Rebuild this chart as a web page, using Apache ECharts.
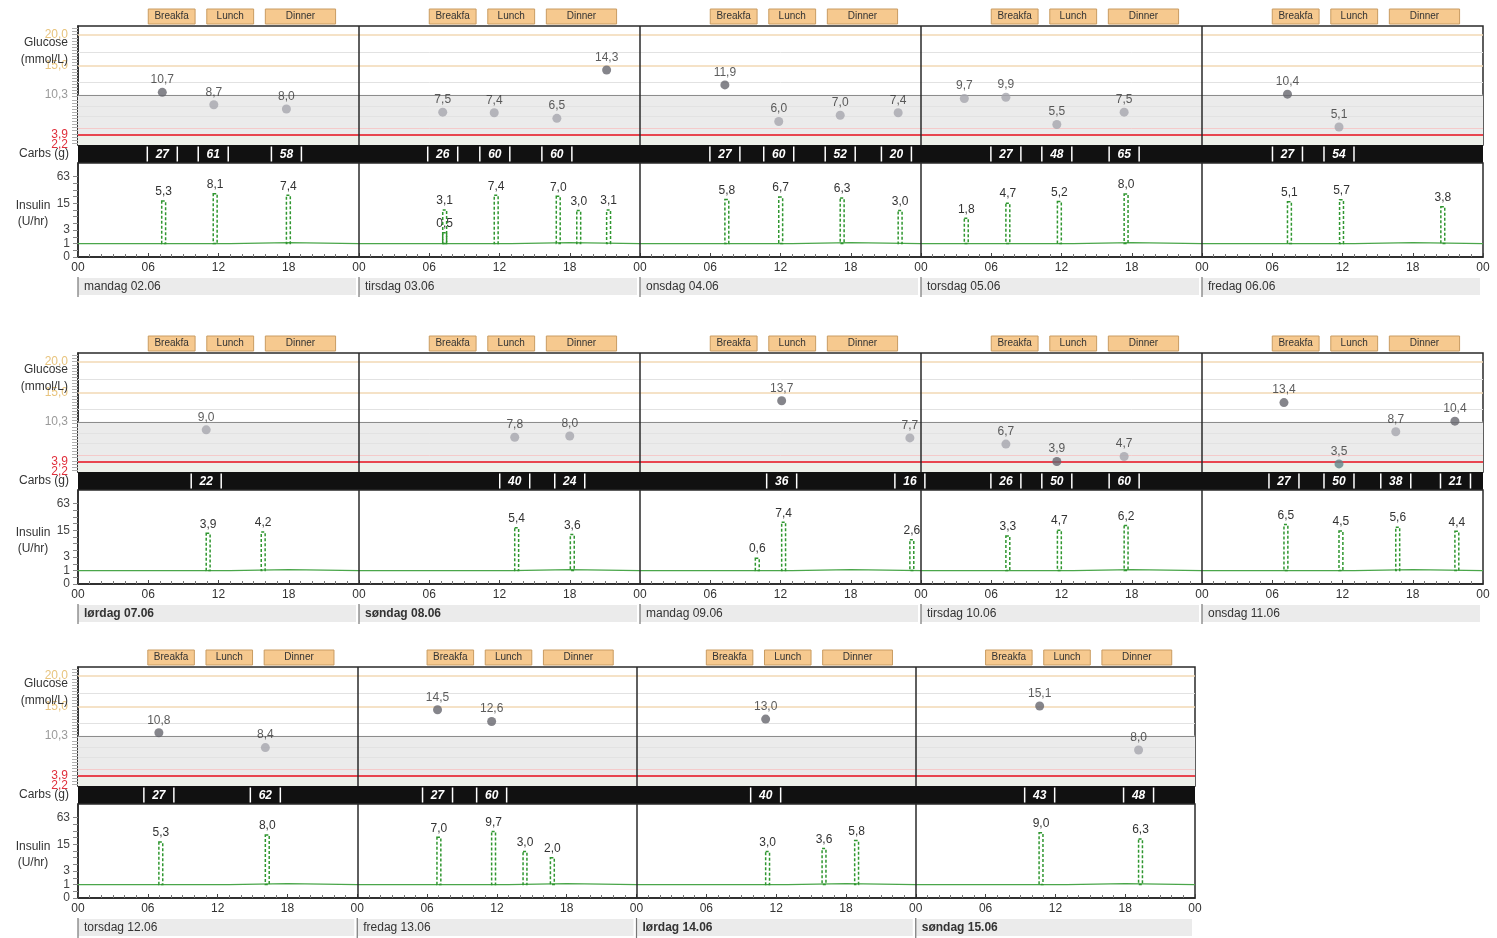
<!DOCTYPE html>
<html><head><meta charset="utf-8">
<script src="https://cdn.jsdelivr.net/npm/echarts@6/dist/echarts.min.js"></script>
<style>html,body{margin:0;padding:0;background:#fff}#c{width:1497px;height:938px}</style>
</head><body><div id="c"></div>
<script>
// ---------------- DATA ----------------
const dayNames = ['mandag 02.06','tirsdag 03.06','onsdag 04.06','torsdag 05.06','fredag 06.06',
  'lørdag 07.06','søndag 08.06','mandag 09.06','tirsdag 10.06','onsdag 11.06',
  'torsdag 12.06','fredag 13.06','lørdag 14.06','søndag 15.06'];
const weekendDays = [5, 6, 12, 13];
const rowDays = [[0,1,2,3,4],[5,6,7,8,9],[10,11,12,13]];
const mealButtons = [['Breakfa',6,10],['Lunch',11,15],['Dinner',16,22]];
const hourTicks = ['00','06','12','18'];
const glucoseTicks = [2.2, 3.9, 10.3, 15.0, 20.0];
const glucoseFaintLines = [17.2, 12.3, 8.4, 6.8];
const insulinTicks = [0, 1, 3, 15, 63];
const basalProfile = [[0, 1.0], [13, 1.1], [18, 1.0]]; // hour, U/hr
const bolusDurationH = 1/3;
const basalRate = 1.0;
// glucose: [day, hour, mmol/L]
const glucose = [
 [0,7.2,10.7],[0,11.6,8.7],[0,17.8,8.0],
 [1,7.15,7.5],[1,11.55,7.4],[1,16.9,6.5],[1,21.15,14.3],
 [2,7.25,11.9],[2,11.85,6.0],[2,17.1,7.0],[2,22.05,7.4],
 [3,3.7,9.7],[3,7.25,9.9],[3,11.6,5.5],[3,17.35,7.5],
 [4,7.3,10.4],[4,11.7,5.1],
 [5,10.95,9.0],
 [6,13.3,7.8],[6,18.0,8.0],
 [7,12.1,13.7],[7,23.05,7.7],
 [8,7.25,6.7],[8,11.6,3.9],[8,17.35,4.7],
 [9,7.0,13.4],[9,11.7,3.5],[9,16.55,8.7],[9,21.6,10.4],
 [10,6.95,10.8],[10,16.1,8.4],
 [11,6.9,14.5],[11,11.55,12.6],
 [12,11.1,13.0],
 [13,10.65,15.1],[13,19.15,8.0]
];
// carbs: [day, hour, g]
const carbs = [
 [0,7.2,27],[0,11.55,61],[0,17.8,58],
 [1,7.15,26],[1,11.6,60],[1,16.9,60],
 [2,7.25,27],[2,11.85,60],[2,17.1,52],[2,21.9,20],
 [3,7.25,27],[3,11.6,48],[3,17.35,65],
 [4,7.3,27],[4,11.7,54],
 [5,10.95,22],
 [6,13.3,40],[6,18.0,24],
 [7,12.1,36],[7,23.05,16],
 [8,7.25,26],[8,11.6,50],[8,17.35,60],
 [9,7.0,27],[9,11.7,50],[9,16.55,38],[9,21.65,21],
 [10,6.95,27],[10,16.1,62],
 [11,6.9,27],[11,11.55,60],
 [12,11.1,40],
 [13,10.65,43],[13,19.15,48]
];
// bolus: [day, hour, U]
const boluses = [
 [0,7.15,5.3],[0,11.55,8.1],[0,17.8,7.4],
 [1,7.15,0.5],[1,7.15,3.1],[1,11.55,7.4],[1,16.85,7.0],[1,18.6,3.0],[1,21.15,3.1],
 [2,7.25,5.8],[2,11.85,6.7],[2,17.1,6.3],[2,22.05,3.0],
 [3,3.7,1.8],[3,7.25,4.7],[3,11.65,5.2],[3,17.35,8.0],
 [4,7.3,5.1],[4,11.75,5.7],[4,20.4,3.8],
 [5,10.95,3.9],[5,15.65,4.2],
 [6,13.3,5.4],[6,18.05,3.6],
 [7,9.85,0.6],[7,12.1,7.4],[7,23.05,2.6],
 [8,7.25,3.3],[8,11.65,4.7],[8,17.35,6.2],
 [9,7.0,6.5],[9,11.7,4.5],[9,16.55,5.6],[9,21.6,4.4],
 [10,6.95,5.3],[10,16.1,8.0],
 [11,6.85,7.0],[11,11.55,9.7],[11,14.25,3.0],[11,16.6,2.0],
 [12,11.1,3.0],[12,15.95,3.6],[12,18.75,5.8],
 [13,10.6,9.0],[13,19.15,6.3]
];

// ---------------- LAYOUT / STYLE ----------------
const FONT = "'Liberation Sans', Arial, sans-serif";
const rowTop = [26, 353, 667];
const rowWidth = [1405, 1405, 1117];
const GH = 119, CH = 18, IH = 94, LEFT = 78;
const RED = '#e0303c';
const fmt = v => v.toFixed(1).replace('.', ',');
const lg = v => Math.log2(v + 1);

const grid = [], xAxis = [], yAxis = [], series = [], graphic = [];
const glucoseMinorTicks = [];
for (let v = 2.5; v <= 21.01; v += 0.5) glucoseMinorTicks.push(+v.toFixed(1));
const insulinMinorTicks = [0, 0.5, 1, 1.5, 2, 2.5, 3, 3.5, 4, 4.5, 5, 5.5, 6];

rowDays.forEach((days, r) => {
  const n = days.length, span = n * 24, top = rowTop[r], W = rowWidth[r], gi = r * 3;
  const local = arr => arr.filter(d => days.includes(d[0])).map(d => [days.indexOf(d[0]) * 24 + d[1], d[2]]);

  grid.push({left: LEFT, top: top, width: W, height: GH, show: true, borderColor: '#2a2a2a', borderWidth: 1.5, backgroundColor: '#fff'});
  grid.push({left: LEFT, top: top + GH, width: W, height: CH, show: true, borderWidth: 0, backgroundColor: '#111'});
  grid.push({left: LEFT, top: top + GH + CH, width: W, height: IH, show: true, borderColor: '#2a2a2a', borderWidth: 1.5, backgroundColor: '#fff'});

  xAxis.push({gridIndex: gi, type: 'value', min: 0, max: span, show: false});
  xAxis.push({gridIndex: gi + 1, type: 'value', min: 0, max: span, show: false});
  xAxis.push({gridIndex: gi + 2, type: 'value', min: 0, max: span, interval: 6,
    axisLine: {lineStyle: {color: '#222', width: 1.5}},
    axisTick: {inside: true, length: 4, lineStyle: {color: '#444'}},
    minorTick: {show: true, splitNumber: 6, length: 3, lineStyle: {color: '#777'}},
    splitLine: {show: false},
    axisLabel: {formatter: v => hourTicks[(v % 24) / 6], color: '#333', fontSize: 12, fontFamily: FONT, margin: 5}});

  yAxis.push({gridIndex: gi, type: 'value', min: 2.2, max: 21.4,
    axisLine: {show: true, lineStyle: {color: '#2a2a2a', width: 1.5}}, splitLine: {show: false},
    axisTick: {show: true, customValues: glucoseMinorTicks, length: 6, lineStyle: {color: '#b0b0b0'}},
    axisLabel: {customValues: glucoseTicks.slice(1), hideOverlap: false, margin: 10, fontFamily: FONT, fontSize: 12,
      formatter: v => { const c = v >= 15 ? 'o' : (v >= 10 ? 'g' : 'r'); return '{' + c + '|' + fmt(v) + '}'; },
      rich: {o: {color: '#e8c47e', fontSize: 12, fontFamily: FONT}, g: {color: '#9a9a9a', fontSize: 12, fontFamily: FONT}, r: {color: RED, fontSize: 12, fontFamily: FONT}}}});
  yAxis.push({gridIndex: gi + 1, type: 'value', min: 0, max: 1, show: false});
  yAxis.push({gridIndex: gi + 2, type: 'value', min: 0, max: 7,
    axisLine: {show: true, lineStyle: {color: '#2a2a2a', width: 1.5}}, splitLine: {show: false},
    axisTick: {show: true, customValues: insulinMinorTicks, length: 5, lineStyle: {color: '#888'}},
    axisLabel: {customValues: insulinTicks.map(lg), hideOverlap: false, margin: 8, color: '#444', fontSize: 12, fontFamily: FONT,
      formatter: v => String(Math.round(2 ** v - 1))}});

  const seps = [];
  for (let k = 1; k < n; k++) seps.push({xAxis: k * 24, lineStyle: {color: '#2a2a2a', width: 1.5, type: 'solid'}});

  // glucose bands & reference lines
  series.push({type: 'scatter', xAxisIndex: gi, yAxisIndex: gi, data: [], silent: true, z: 1,
    markArea: {silent: true, data: [
      [{yAxis: glucoseTicks[2], itemStyle: {color: '#ebebeb'}}, {yAxis: glucoseTicks[1]}],
      [{yAxis: glucoseTicks[1], itemStyle: {color: '#edf0ea'}}, {yAxis: glucoseTicks[0]}]]},
    markLine: {silent: true, symbol: 'none', label: {show: false}, animation: false, data: [
      ...glucoseFaintLines.map(v => ({yAxis: v, lineStyle: {color: '#e2e2e2', width: 1, type: 'solid'}})),
      {yAxis: 4.9, lineStyle: {color: '#f4caca', width: 1, type: 'solid'}},
      {yAxis: glucoseTicks[4], lineStyle: {color: '#f2d9b4', width: 1.5, type: 'solid'}},
      {yAxis: glucoseTicks[3], lineStyle: {color: '#f2d9b4', width: 1.5, type: 'solid'}},
      {yAxis: glucoseTicks[2], lineStyle: {color: '#8c8c8c', width: 1.2, type: 'solid'}},
      {yAxis: glucoseTicks[1], lineStyle: {color: '#e8464f', width: 2, type: 'solid'}},
      ...seps]}});

  // 2,2 bottom label drawn on its own transparent reference line
  series.push({type: 'scatter', xAxisIndex: gi, yAxisIndex: gi, data: [], silent: true, z: 7,
    markLine: {silent: true, symbol: 'none', animation: false,
      lineStyle: {color: 'rgba(255,255,255,0)', width: 1, type: 'solid'},
      label: {show: true, position: 'start', distance: 10, formatter: fmt(glucoseTicks[0]), color: RED, fontSize: 12, fontFamily: FONT},
      data: [{yAxis: glucoseTicks[0]}]}});

  // glucose points
  series.push({type: 'scatter', xAxisIndex: gi, yAxisIndex: gi, z: 5, symbolSize: 9,
    data: local(glucose),
    itemStyle: {color: p => { const v = p.value[1]; return v > 10.3 ? '#66666e' : (v < 3.9 ? '#5f8487' : (v <= 3.9 ? '#66666e' : '#a6a6ae')); }},
    label: {show: true, position: 'top', distance: 2, color: '#333', fontSize: 12, fontFamily: FONT, formatter: p => fmt(p.value[1])}});

  // meal buttons
  const btnData = [];
  days.forEach((d, i) => mealButtons.forEach((m, k) => btnData.push([i * 24 + m[1], i * 24 + m[2], k])));
  series.push({type: 'custom', xAxisIndex: gi, yAxisIndex: gi, clip: false, silent: true, z: 6, data: btnData,
    renderItem: (params, api) => {
      const cs = params.coordSys;
      const x0 = api.coord([api.value(0), 2.2])[0], x1 = api.coord([api.value(1), 2.2])[0];
      return {type: 'group', children: [
        {type: 'rect', shape: {x: x0, y: cs.y - 17, width: x1 - x0, height: 15}, style: {fill: '#f6c98f', stroke: '#c99c62', lineWidth: 1}},
        {type: 'text', style: {text: mealButtons[api.value(2)][0], x: (x0 + x1) / 2, y: cs.y - 10, align: 'center', verticalAlign: 'middle', fill: '#333', fontSize: 10, fontFamily: FONT}}]};
    }});

  // carbs
  series.push({type: 'custom', xAxisIndex: gi + 1, yAxisIndex: gi + 1, clip: false, silent: true, z: 5, data: local(carbs),
    renderItem: (params, api) => {
      const p = api.coord([api.value(0), 0.5]);
      return {type: 'group', children: [
        {type: 'line', shape: {x1: p[0] - 15, y1: p[1] - 7.5, x2: p[0] - 15, y2: p[1] + 7.5}, style: {stroke: '#fff', lineWidth: 1.5}},
        {type: 'line', shape: {x1: p[0] + 15, y1: p[1] - 7.5, x2: p[0] + 15, y2: p[1] + 7.5}, style: {stroke: '#fff', lineWidth: 1.5}},
        {type: 'text', style: {text: String(api.value(1)), x: p[0], y: p[1] + 0.5, align: 'center', verticalAlign: 'middle', fill: '#fff', fontSize: 12, fontWeight: 'bold', fontStyle: 'italic', fontFamily: FONT}}]};
    }});

  // basal line
  const basal = [];
  days.forEach((d, i) => basalProfile.forEach(b => basal.push([i * 24 + b[0], lg(b[1])])));
  basal.push([span, lg(basalProfile[0][1])]);
  series.push({type: 'line', xAxisIndex: gi + 2, yAxisIndex: gi + 2, step: 'end', symbol: 'none', silent: true, z: 2,
    data: basal, lineStyle: {color: '#4aa64a', width: 1.3},
    markLine: {silent: true, symbol: 'none', label: {show: false}, animation: false, data: seps}});

  // boluses
  series.push({type: 'custom', xAxisIndex: gi + 2, yAxisIndex: gi + 2, clip: false, silent: true, z: 4, data: local(boluses),
    renderItem: (params, api) => {
      const t = api.value(0), b = api.value(1);
      const p0 = api.coord([t, lg(basalRate)]);
      const p1 = api.coord([t + bolusDurationH, lg(basalRate + b / bolusDurationH)]);
      return {type: 'group', children: [
        {type: 'rect', shape: {x: p0[0], y: p1[1], width: p1[0] - p0[0], height: p0[1] - p1[1]}, style: {fill: 'none', stroke: '#2f962f', lineWidth: 1.5, lineDash: [3, 2]}},
        {type: 'text', style: {text: fmt(b), x: (p0[0] + p1[0]) / 2, y: p1[1] - 3, align: 'center', verticalAlign: 'bottom', fill: '#333', fontSize: 12, fontFamily: FONT}}]};
    }});

  // day label bars
  series.push({type: 'custom', xAxisIndex: gi + 2, yAxisIndex: gi + 2, clip: false, silent: true, z: 3,
    data: days.map((d, i) => [i, d]),
    renderItem: (params, api) => {
      const cs = params.coordSys, i = api.value(0), d = api.value(1);
      const x0 = api.coord([i * 24, 0])[0], x1 = api.coord([(i + 1) * 24, 0])[0];
      const yb = cs.y + cs.height;
      return {type: 'group', children: [
        {type: 'rect', shape: {x: x0, y: yb + 21, width: x1 - x0 - 3, height: 17}, style: {fill: '#ebebeb'}},
        {type: 'line', shape: {x1: x0, y1: yb + 20, x2: x0, y2: yb + 40}, style: {stroke: '#777', lineWidth: 1.2}},
        {type: 'text', style: {text: dayNames[d], x: x0 + 6, y: yb + 30, align: 'left', verticalAlign: 'middle', fill: '#333', fontSize: 12, fontFamily: FONT, fontWeight: weekendDays.includes(d) ? 'bold' : 'normal'}}]};
    }});

  // axis titles
  const ts = {fill: '#333', fontSize: 12, fontFamily: FONT, verticalAlign: 'middle'};
  graphic.push({type: 'text', x: 68, y: top + 17, z: 10, style: {...ts, text: 'Glucose', align: 'right'}});
  graphic.push({type: 'text', x: 68, y: top + 34, z: 10, style: {...ts, text: '(mmol/L)', align: 'right'}});
  graphic.push({type: 'text', x: 69, y: top + 128, z: 10, style: {...ts, text: 'Carbs (g)', align: 'right'}});
  graphic.push({type: 'text', x: 33, y: top + 180, z: 10, style: {...ts, text: 'Insulin', align: 'center'}});
  graphic.push({type: 'text', x: 33, y: top + 196, z: 10, style: {...ts, text: '(U/hr)', align: 'center'}});
});

const chart = echarts.init(document.getElementById('c'), null, {renderer: 'canvas'});
chart.setOption({animation: false, backgroundColor: '#fff', grid, xAxis, yAxis, series, graphic});
</script></body></html>
